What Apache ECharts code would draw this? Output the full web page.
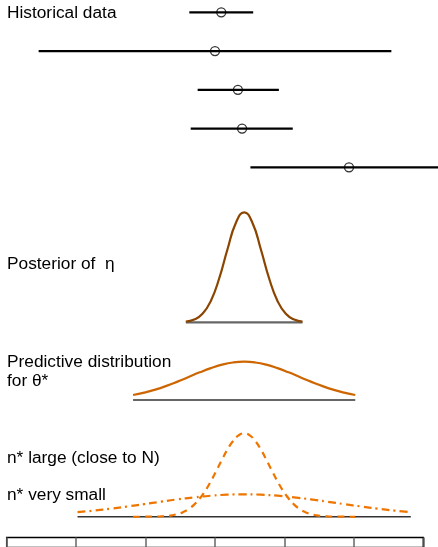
<!DOCTYPE html>
<html>
<head>
<meta charset="utf-8">
<style>html,body{margin:0;padding:0;background:#fff;}#c{width:438px;height:547px;}</style>
<script src="https://cdn.jsdelivr.net/npm/echarts@6/dist/echarts.min.js"></script>
</head>
<body>
<div id="c"></div>
<script>
// ---- Data ----
// Historical studies: estimate and interval (x-axis units, rows top->bottom)
var histRows  = [1, 2, 3, 4, 5];
var histLow   = [2.63, 0.46, 2.75, 2.65, 3.51];
var histHigh  = [3.55, 5.54, 3.92, 4.12, 6.40];
var histPoint = [3.09, 3.00, 3.33, 3.39, 4.93];

// Posterior of eta (relative height)
var postX = [2.58, 2.70, 2.82, 2.94, 3.06, 3.18, 3.30, 3.42, 3.54, 3.66, 3.78, 3.90, 4.02, 4.14, 4.26];
var postY = [0.007, 0.025, 0.077, 0.194, 0.398, 0.664, 0.903, 1.0, 0.903, 0.664, 0.398, 0.194, 0.077, 0.025, 0.007];

// Predictive distribution for theta* (relative height)
var predX = [1.82, 1.98, 2.14, 2.30, 2.46, 2.62, 2.78, 2.94, 3.10, 3.26, 3.42, 3.58, 3.74, 3.90, 4.06, 4.22, 4.38, 4.54, 4.70, 4.86, 5.02];
var predY = [0.130, 0.192, 0.271, 0.368, 0.480, 0.601, 0.722, 0.832, 0.922, 0.980, 1.0, 0.980, 0.922, 0.832, 0.722, 0.601, 0.480, 0.368, 0.271, 0.192, 0.130];

// n* large (close to N) — dashed
var largeX = [1.82, 1.98, 2.14, 2.22, 2.30, 2.38, 2.46, 2.54, 2.62, 2.70, 2.78, 2.86, 2.94, 3.02, 3.10, 3.18, 3.26, 3.34, 3.42, 3.50, 3.58, 3.66, 3.74, 3.82, 3.90, 3.98, 4.06, 4.14, 4.22, 4.30, 4.38, 4.46, 4.54, 4.62, 4.70, 4.86, 5.02];
var largeY = [0.000, 0.001, 0.002, 0.005, 0.010, 0.018, 0.033, 0.056, 0.093, 0.146, 0.219, 0.312, 0.425, 0.552, 0.684, 0.808, 0.909, 0.977, 1.0, 0.977, 0.909, 0.808, 0.684, 0.552, 0.425, 0.312, 0.219, 0.146, 0.093, 0.056, 0.033, 0.018, 0.010, 0.005, 0.002, 0.001, 0.000];

// n* very small — dash-dot
var smallX = [1.02, 1.26, 1.50, 1.74, 1.98, 2.22, 2.46, 2.70, 2.94, 3.18, 3.42, 3.66, 3.90, 4.14, 4.38, 4.62, 4.86, 5.10, 5.34, 5.58, 5.82];
var smallY = [0.055, 0.075, 0.098, 0.124, 0.152, 0.181, 0.209, 0.233, 0.253, 0.265, 0.269, 0.265, 0.253, 0.233, 0.209, 0.181, 0.152, 0.124, 0.098, 0.075, 0.055];

// Axis ticks (bottom panel)
var xTicks = [0, 1, 2, 3, 4, 5, 6];

// Labels
var labels = [
  {text: 'Historical data', y: 12.8},
  {text: 'Posterior of  \u03b7', y: 264.5},
  {text: 'Predictive distribution', y: 362.5},
  {text: 'for \u03b8*', y: 381.7},
  {text: 'n* large (close to N)', y: 458},
  {text: 'n* very small', y: 495.5}
];

// ---- Chart ----
function zip(xs, ys) { return xs.map(function (x, i) { return [x, ys[i]]; }); }

var L = 6.7, R = 438 - 423.3, PXU = (423.3 - 6.7) / 6;
var histMax = 6 + R / PXU;   // historical panel runs to the canvas edge
var grids = [
  {left: L, right: 0, top: 12.3, height: 155},      // historical
  {left: L, right: R, top: 212.3, height: 110},     // posterior
  {left: L, right: R, top: 361.7, height: 38.3},    // predictive
  {left: L, right: R, top: 433.4, height: 83.4},    // n*
  {left: L, right: R, top: 537.5, height: 40, show: true, borderColor: '#000', borderWidth: 1.5, backgroundColor: 'transparent'} // axis box
];
var xAxes = grids.map(function (g, i) {
  var ax = {gridIndex: i, type: 'value', min: xTicks[0], max: i === 0 ? histMax : xTicks[xTicks.length - 1], interval: 1,
    axisLine: {show: false}, axisTick: {show: false}, axisLabel: {show: false}, splitLine: {show: false}};
  if (i === 4) {
    ax.splitLine = {show: true, lineStyle: {color: '#666', width: 1.5}};
  }
  return ax;
});
var yAxes = [
  {gridIndex: 0, type: 'value', min: 1, max: 5, inverse: true, show: false},
  {gridIndex: 1, type: 'value', min: 0, max: 1, show: false},
  {gridIndex: 2, type: 'value', min: 0, max: 1, show: false},
  {gridIndex: 3, type: 'value', min: 0, max: 1, show: false},
  {gridIndex: 4, type: 'value', min: 0, max: 1, show: false, splitLine: {show: false}}
];

var series = [];
histRows.forEach(function (r, i) {
  series.push({type: 'line', xAxisIndex: 0, yAxisIndex: 0, clip: false, symbol: 'none', silent: true,
    data: [[histLow[i], r], [histHigh[i], r]], lineStyle: {color: '#000', width: 2.3}});
});
series.push({type: 'scatter', xAxisIndex: 0, yAxisIndex: 0, clip: false, symbol: 'circle', symbolSize: 9,
  data: zip(histPoint, histRows), itemStyle: {color: 'rgba(0,0,0,0)', borderColor: '#000', borderWidth: 1.3}, z: 3});

// posterior
series.push({type: 'line', xAxisIndex: 1, yAxisIndex: 1, symbol: 'none', clip: false,
  data: [[postX[0], 0], [postX[postX.length - 1], 0]], lineStyle: {color: '#666', width: 2.2}});
series.push({type: 'line', xAxisIndex: 1, yAxisIndex: 1, symbol: 'none', smooth: true, clip: false,
  data: zip(postX, postY), lineStyle: {color: '#8B4500', width: 2.2}});

// predictive
series.push({type: 'line', xAxisIndex: 2, yAxisIndex: 2, symbol: 'none', clip: false,
  data: [[predX[0], 0], [predX[predX.length - 1], 0]], lineStyle: {color: '#333', width: 1.5}});
series.push({type: 'line', xAxisIndex: 2, yAxisIndex: 2, symbol: 'none', smooth: true, clip: false,
  data: zip(predX, predY), lineStyle: {color: '#CD6600', width: 2.2}});

// n*
series.push({type: 'line', xAxisIndex: 3, yAxisIndex: 3, symbol: 'none', clip: false,
  data: [[smallX[0], 0], [smallX[smallX.length - 1], 0]], lineStyle: {color: '#333', width: 1.5}});
series.push({type: 'line', xAxisIndex: 3, yAxisIndex: 3, symbol: 'none', smooth: true, clip: false,
  data: zip(largeX, largeY), lineStyle: {color: '#EE7600', width: 2.2, type: [7, 5]}});
series.push({type: 'line', xAxisIndex: 3, yAxisIndex: 3, symbol: 'none', smooth: true, clip: false,
  data: zip(smallX, smallY), lineStyle: {color: '#EE7600', width: 2.2, type: [8, 4, 2, 4]}});

var chart = echarts.init(document.getElementById('c'), null, {renderer: 'canvas'});
chart.setOption({
  animation: false,
  backgroundColor: '#fff',
  grid: grids,
  xAxis: xAxes,
  yAxis: yAxes,
  series: series,
  graphic: labels.map(function (l) {
    return {type: 'text', left: 7, top: l.y - 8.5, z: 10,
      style: {text: l.text, fill: '#000', font: '17.3px "Liberation Sans", Arial, sans-serif', textVerticalAlign: 'top'}};
  })
});
</script>
</body>
</html>
